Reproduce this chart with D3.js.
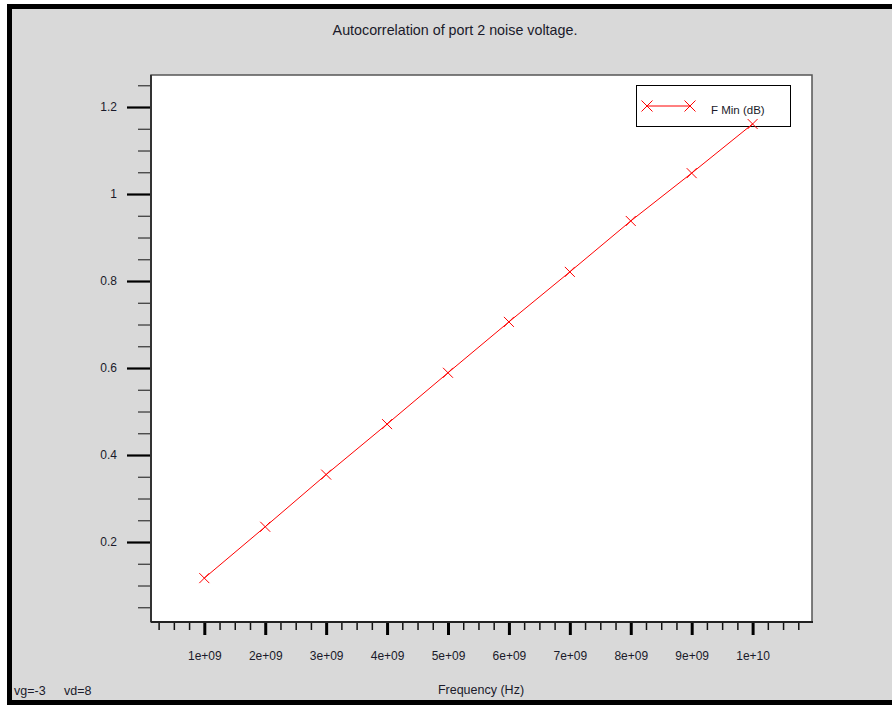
<!DOCTYPE html>
<html>
<head>
<meta charset="utf-8">
<script src="https://cdn.jsdelivr.net/npm/d3@7"></script>
<style>
  html, body { margin: 0; padding: 0; background: #ffffff; }
  svg { display: block; }
  text { font-family: "Liberation Sans", Arial, sans-serif; fill: #1a1a2a; }
</style>
</head>
<body>
<svg id="chart" width="892" height="705"></svg>
<script>
// Frequency sweep points (Hz) and the F Min (dB) trace
const frequencies = [1e9, 2e9, 3e9, 4e9, 5e9, 6e9, 7e9, 8e9, 9e9, 1e10];
const fMinValues = [0.117, 0.235, 0.355, 0.471, 0.589, 0.706, 0.821, 0.938, 1.048, 1.161];

// Axis tick values and labels
const xMajorTicks = [1e9, 2e9, 3e9, 4e9, 5e9, 6e9, 7e9, 8e9, 9e9, 1e10];
const xTickLabels = ["1e+09", "2e+09", "3e+09", "4e+09", "5e+09", "6e+09", "7e+09", "8e+09", "9e+09", "1e+10"];
const yMajorTicks = [0.2, 0.4, 0.6, 0.8, 1.0, 1.2];
const yTickLabels = ["0.2", "0.4", "0.6", "0.8", "1", "1.2"];

const titleText = "Autocorrelation of port 2 noise voltage.";
const xAxisTitle = "Frequency (Hz)";
const seriesName = "F Min (dB)";
const biasLabels = ["vg=-3", "vd=8"];

const svg = d3.select("#chart");
const W = 892, H = 705;

// Window frame
svg.append("rect").attr("x", 7).attr("y", 4).attr("width", W - 7).attr("height", H - 4).attr("fill", "#000");
svg.append("rect").attr("x", 12).attr("y", 9).attr("width", W - 12).attr("height", 691).attr("fill", "#d9d9d9");

// Plot area
const plot = { left: 151, top: 75, right: 812, bottom: 622 };

const x = d3.scaleLinear().domain([0.125e9, 10.975e9]).range([plot.left, plot.right]);
const y = d3.scaleLinear().domain([0.0161, 1.2736]).range([plot.bottom, plot.top]);

svg.append("rect")
  .attr("x", plot.left).attr("y", plot.top)
  .attr("width", plot.right - plot.left).attr("height", plot.bottom - plot.top)
  .attr("fill", "#fff").attr("stroke", "#555").attr("stroke-width", 1.5);

// Title
svg.append("text")
  .attr("x", 455).attr("y", 35)
  .attr("text-anchor", "middle").attr("font-size", 14.3)
  .text(titleText);

// Y axis: minor ticks every 0.05, major ticks with labels
const yMinor = d3.range(1, 26).map(i => i * 0.05).filter(v => !yMajorTicks.some(m => Math.abs(m - v) < 1e-9));
const yMinorAxis = d3.axisLeft(y).tickValues(yMinor).tickSize(13).tickFormat("");
const gyMinor = svg.append("g").attr("transform", `translate(${plot.left},0)`).call(yMinorAxis);
gyMinor.select(".domain").remove();
gyMinor.selectAll(".tick line").attr("stroke", "#333").attr("stroke-width", 1.2);

const yMajorAxis = d3.axisLeft(y).tickValues(yMajorTicks).tickSize(24).tickPadding(10)
  .tickFormat((d, i) => yTickLabels[i]);
const gyMajor = svg.append("g").attr("transform", `translate(${plot.left},0)`).call(yMajorAxis);
gyMajor.select(".domain").remove();
gyMajor.selectAll(".tick line").attr("stroke", "#000").attr("stroke-width", 2.2);
gyMajor.selectAll(".tick text").attr("font-size", 12).attr("font-family", "Liberation Sans, Arial, sans-serif")
  .attr("fill", "#1a1a2a");

// X axis: minor ticks every 0.25e9, major ticks with labels
const xMinor = d3.range(1, 44).map(i => i * 0.25e9).filter(v => !xMajorTicks.some(m => Math.abs(m - v) < 1));
const xMinorAxis = d3.axisBottom(x).tickValues(xMinor).tickSize(8).tickFormat("");
const gxMinor = svg.append("g").attr("transform", `translate(0,${plot.bottom})`).call(xMinorAxis);
gxMinor.select(".domain").remove();
gxMinor.selectAll(".tick line").attr("stroke", "#111").attr("stroke-width", 1.5);

const xMajorAxis = d3.axisBottom(x).tickValues(xMajorTicks).tickSize(13).tickPadding(16)
  .tickFormat((d, i) => xTickLabels[i]);
const gxMajor = svg.append("g").attr("transform", `translate(0,${plot.bottom})`).call(xMajorAxis);
gxMajor.select(".domain").remove();
gxMajor.selectAll(".tick line").attr("stroke", "#000").attr("stroke-width", 3);
gxMajor.selectAll(".tick text").attr("font-size", 12).attr("font-family", "Liberation Sans, Arial, sans-serif")
  .attr("fill", "#1a1a2a");

// Axis lines
svg.append("line").attr("x1", plot.left).attr("x2", plot.left).attr("y1", plot.top).attr("y2", plot.bottom)
  .attr("stroke", "#333").attr("stroke-width", 2);
svg.append("line").attr("x1", plot.left).attr("x2", plot.right + 1).attr("y1", plot.bottom).attr("y2", plot.bottom)
  .attr("stroke", "#222").attr("stroke-width", 2);

// X axis title and bias annotations
svg.append("text").attr("x", 481).attr("y", 694).attr("text-anchor", "middle").attr("font-size", 12.5).text(xAxisTitle);
svg.append("text").attr("x", 14).attr("y", 695).attr("font-size", 12.5).text(biasLabels[0]);
svg.append("text").attr("x", 64).attr("y", 695).attr("font-size", 12.5).text(biasLabels[1]);

// Cross marker path
const cross = (cx, cy, r) => `M${cx - r},${cy - r}L${cx + r},${cy + r}M${cx - r},${cy + r}L${cx + r},${cy - r}`;

// Legend
const legend = svg.append("g");
legend.append("rect").attr("x", 636.5).attr("y", 85.5).attr("width", 154).attr("height", 41)
  .attr("fill", "#fff").attr("stroke", "#000").attr("stroke-width", 1);
legend.append("line").attr("x1", 647).attr("x2", 690).attr("y1", 106).attr("y2", 106)
  .attr("stroke", "#ff0000").attr("stroke-width", 1);
legend.append("path").attr("d", cross(647, 106, 5.5) + cross(690, 106, 5.5))
  .attr("stroke", "#ff0000").attr("stroke-width", 1).attr("fill", "none");
legend.append("text").attr("x", 711).attr("y", 114).attr("font-size", 11.5).text(seriesName);

// Data trace
const pts = frequencies.map((f, i) => [x(f), y(fMinValues[i])]);
svg.append("path")
  .attr("d", d3.line()(pts))
  .attr("fill", "none").attr("stroke", "#ff0000").attr("stroke-width", 1);
svg.append("g").selectAll("path").data(pts).join("path")
  .attr("d", d => cross(d[0], d[1], 5))
  .attr("stroke", "#ff0000").attr("stroke-width", 1).attr("fill", "none");
</script>
</body>
</html>
